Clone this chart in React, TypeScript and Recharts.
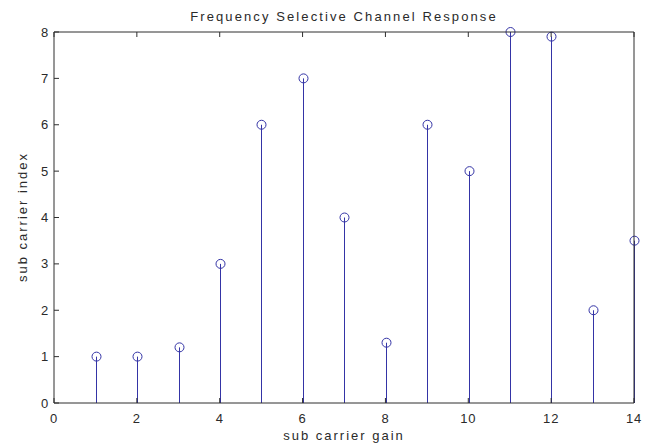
import React from "react";
import { ComposedChart, Bar, XAxis, YAxis } from "recharts";

// Sub-carrier positions and measured channel gains
const carriers = [1, 2, 3, 4, 5, 6, 7, 8, 9, 10, 11, 12, 13, 14];
const gains = [1, 1, 1.2, 3, 6, 7, 4, 1.3, 6, 5, 8, 7.9, 2, 3.5];
const xTicks = [0, 2, 4, 6, 8, 10, 12, 14];
const yTicks = [0, 1, 2, 3, 4, 5, 6, 7, 8];

const data = carriers.map((c, i) => ({ carrier: c, gain: gains[i] }));

const STEM = "#3434a6";
const AXIS = "#2e2e2e";
const TEXT = "#2a2a2a";
const FONT = "'Liberation Sans', Arial, sans-serif";

// Stem: vertical line from the baseline up to the value, topped by an open circle
const Stem = (props: any) => {
  const { x, y, width, height } = props;
  const cx = Math.round(x + width / 2) + 0.5;
  return (
    <g>
      <line x1={cx} y1={y + height} x2={cx} y2={y} stroke={STEM} strokeWidth={1} />
      <circle cx={cx} cy={y} r={4.5} fill="none" stroke={STEM} strokeWidth={1} />
    </g>
  );
};

const NoTick = () => <g />;

const tickStyle = { fill: TEXT, fontSize: 13, fontFamily: FONT, letterSpacing: 0.8 };

export default function App() {
  return (
    <div style={{ position: "absolute", left: 0, top: 0, width: 652, height: 445, background: "#fff" }}>
      <ComposedChart
        width={652}
        height={445}
        data={data}
        margin={{ top: 31, right: 17, left: 0, bottom: 0 }}
      >
        <XAxis
          xAxisId="bottom"
          dataKey="carrier"
          type="number"
          domain={[0, 14]}
          ticks={xTicks}
          height={42}
          tickSize={-5}
          tickMargin={16}
          stroke={AXIS}
          tick={tickStyle}
        />
        <XAxis
          xAxisId="top"
          orientation="top"
          dataKey="carrier"
          type="number"
          domain={[0, 14]}
          ticks={xTicks}
          height={1}
          tickSize={-5}
          stroke={AXIS}
          tick={<NoTick />}
        />
        <YAxis
          yAxisId="left"
          type="number"
          domain={[0, 8]}
          ticks={yTicks}
          width={54}
          tickSize={-5}
          tickMargin={10}
          stroke={AXIS}
          tick={tickStyle}
        />
        <YAxis
          yAxisId="right"
          orientation="right"
          type="number"
          domain={[0, 8]}
          ticks={yTicks}
          width={1}
          tickSize={-5}
          stroke={AXIS}
          tick={<NoTick />}
        />
        <Bar
          xAxisId="bottom"
          yAxisId="left"
          dataKey="gain"
          barSize={2}
          shape={<Stem />}
          isAnimationActive={false}
        />
        <text x={344} y={21} textAnchor="middle" fontSize={13} fontFamily={FONT} fill={TEXT} letterSpacing={2.1}>
          Frequency Selective Channel Response
        </text>
        <text x={344} y={440} textAnchor="middle" fontSize={13} fontFamily={FONT} fill={TEXT} letterSpacing={2}>
          sub carrier gain
        </text>
        <text
          x={27}
          y={217}
          textAnchor="middle"
          fontSize={13}
          fontFamily={FONT}
          fill={TEXT}
          letterSpacing={2}
          transform="rotate(-90 27 217)"
        >
          sub carrier index
        </text>
      </ComposedChart>
    </div>
  );
}
